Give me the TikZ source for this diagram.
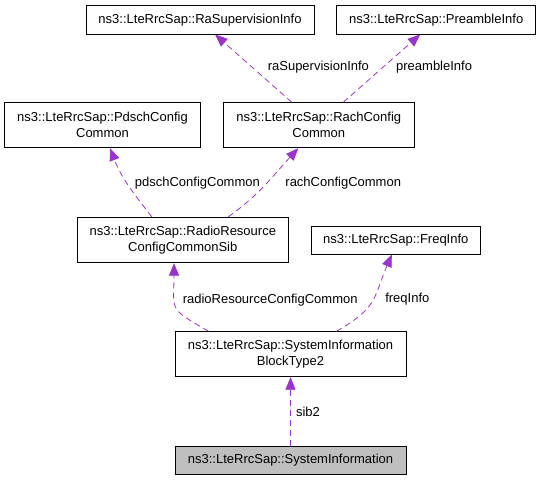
\documentclass[tikz,border=0pt]{standalone}
\usepackage{fontspec}
\setmainfont{Liberation Sans}
\usetikzlibrary{arrows.meta}

\definecolor{edgepurple}{HTML}{9A32CD}
\definecolor{boxgray}{HTML}{BFBFBF}

\tikzset{
  box/.style={draw=black, line width=0.9pt, fill=white, inner sep=0pt,
    align=center, font=\fontsize{13}{15.7}\selectfont},
  edge/.style={edgepurple, line width=0.8pt, dash pattern=on 6pt off 4pt,
    -{Triangle[length=12.5pt,width=10pt]}},
  lbl/.style={font=\fontsize{13}{15.7}\selectfont, inner sep=0pt,
    anchor=west, text=black}
}

\begin{document}
\begin{tikzpicture}[x=1pt,y=1pt]
    \useasboundingbox (0,0) rectangle (540,480);

    % Classes
    \node[box, minimum width=228, minimum height=28.3] (rasup) at (200,460.15) {ns3::LteRrcSap::RaSupervisionInfo};
    \node[box, minimum width=199, minimum height=28.3] (preamble) at (436.2,460.15) {ns3::LteRrcSap::PreambleInfo};
    \node[box, minimum width=196.4, minimum height=45] (pdsch) at (102.5,354.8) {ns3::LteRrcSap::PdschConfig\\Common};
    \node[box, minimum width=191, minimum height=45] (rach) at (318.8,354.8) {ns3::LteRrcSap::RachConfig\\Common};
    \node[box, minimum width=211, minimum height=45.4] (radio) at (182.8,240) {ns3::LteRrcSap::RadioResource\\ConfigCommonSib};
    \node[box, minimum width=169.7, minimum height=28] (freq) at (395.8,240) {ns3::LteRrcSap::FreqInfo};
    \node[box, minimum width=231, minimum height=45] (sibtwo) at (290.5,125.8) {ns3::LteRrcSap::SystemInformation\\BlockType2};
    \node[box, fill=boxgray, minimum width=231, minimum height=28] (sysinfo) at (290.5,20) {ns3::LteRrcSap::SystemInformation};

    % Members
    \draw[edge] ([xshift=-27]rach.north) -- ([xshift=15]rasup.south)
      node[lbl, pos=0.517, xshift=15.3] {raSupervisionInfo};
    \draw[edge] ([xshift=24.5]rach.north) -- ([xshift=-16]preamble.south)
      node[lbl, pos=0.517, xshift=12.7] {preambleInfo};
    \draw[edge] ([xshift=-31]radio.north) to[out=128, in=-69]
      node[lbl, pos=0.51, xshift=7] {pdschConfigCommon} ([xshift=7.5]pdsch.south);
    \draw[edge] ([xshift=45.5]radio.north) to[out=35.5, in=227.5]
      node[lbl, pos=0.52, xshift=18.5] {rachConfigCommon} ([xshift=-20.5]rach.south);
    \draw[edge] ([xshift=-82]sibtwo.north) to[out=150, in=-90, looseness=1.6]
      node[lbl, pos=0.61, xshift=8.2] {radioResourceConfigCommon} ([xshift=-8.8]radio.south);
    \draw[edge] ([xshift=46]sibtwo.north) to[out=30, in=247, looseness=1.3]
      node[lbl, pos=0.52, xshift=11.4] {freqInfo} ([xshift=-4]freq.south);
    \draw[edge] (sysinfo) -- (sibtwo)
      node[lbl, midway, xshift=5.2] {sib2};
\end{tikzpicture}
\end{document}
